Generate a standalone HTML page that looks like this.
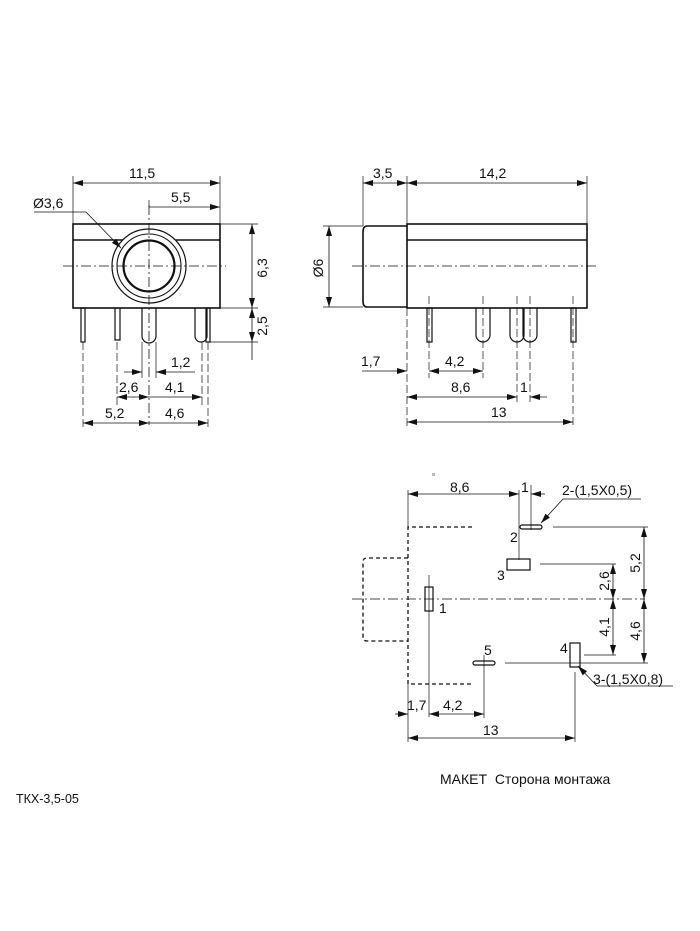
<!DOCTYPE html>
<html><head><meta charset="utf-8"><style>
html,body{margin:0;padding:0;background:#fff;}
svg{display:block;}
text{font-family:"Liberation Sans",Arial,sans-serif;fill:#111;}
</style></head><body>
<svg width="700" height="931" viewBox="0 0 700 931" xmlns="http://www.w3.org/2000/svg">
<defs>
<marker id="a" viewBox="0 0 10 6" refX="10" refY="3" markerWidth="10" markerHeight="6" markerUnits="userSpaceOnUse" orient="auto-start-reverse"><path d="M0,0 L10,3 L0,6 z" fill="#111"/></marker>
</defs>
<g fill="none" stroke="#111" stroke-width="1">
<!-- FRONT VIEW -->
<rect x="73" y="224" width="147" height="84" stroke-width="1.6"/>
<line x1="73" y1="240" x2="220" y2="240" stroke-width="1.4"/>
<circle cx="149" cy="266" r="37" fill="#fff" stroke-width="1.2"/>
<circle cx="149" cy="266" r="32" stroke-width="1.1"/>
<circle cx="149" cy="266" r="25.5" stroke-width="2.2"/>
<line x1="63" y1="266" x2="226" y2="266" stroke-width="0.8" stroke-dasharray="10,3,2,3"/>
<line x1="149" y1="205" x2="149" y2="425" stroke-width="0.8" stroke-dasharray="10,3,2,3"/>
<!-- pins front -->
<rect x="81" y="308" width="4" height="34" stroke-width="1.2"/>
<path d="M115,308 V340 H120 V308" stroke-width="1.2"/>
<path d="M142,308 V336 A7,7 0 0 0 156,336 V308" stroke-width="1.2"/>
<path d="M195,308 V336 A6,6 0 0 0 207,336 V308" stroke-width="1.2"/>
<rect x="206" y="308" width="4" height="34" stroke-width="1.2"/>
<!-- front dims -->
<line x1="73" y1="224" x2="73" y2="176" stroke-width="0.7"/>
<line x1="220" y1="224" x2="220" y2="176" stroke-width="0.7"/>
<line x1="73" y1="183" x2="220" y2="183" stroke-width="0.8" marker-start="url(#a)" marker-end="url(#a)"/>
<line x1="149" y1="200" x2="149" y2="207" stroke-width="0.7"/>
<line x1="149" y1="207" x2="220" y2="207" stroke-width="0.8" marker-end="url(#a)"/>
<path d="M34,212 H86 L121,248" stroke-width="0.8" marker-end="url(#a)"/>
<line x1="220" y1="224" x2="258" y2="224" stroke-width="0.7"/>
<line x1="220" y1="308" x2="258" y2="308" stroke-width="0.7"/>
<line x1="210" y1="342" x2="258" y2="342" stroke-width="0.7"/>
<line x1="252" y1="224" x2="252" y2="308" stroke-width="0.8" marker-start="url(#a)" marker-end="url(#a)"/>
<line x1="252" y1="308" x2="252" y2="342" stroke-width="0.8" marker-start="url(#a)" marker-end="url(#a)"/>
<line x1="252" y1="342" x2="252" y2="360" stroke-width="0.8"/>
<line x1="83" y1="342" x2="83" y2="430" stroke-width="0.7" stroke-dasharray="8,3"/>
<line x1="117" y1="342" x2="117" y2="405" stroke-width="0.7" stroke-dasharray="8,3"/>
<line x1="142" y1="342" x2="142" y2="378" stroke-width="0.7"/>
<line x1="156" y1="342" x2="156" y2="378" stroke-width="0.7"/>
<line x1="202" y1="342" x2="202" y2="405" stroke-width="0.7" stroke-dasharray="8,3"/>
<line x1="208" y1="342" x2="208" y2="430" stroke-width="0.7" stroke-dasharray="8,3"/>
<line x1="124" y1="372" x2="142" y2="372" stroke-width="0.8" marker-end="url(#a)"/>
<line x1="156" y1="372" x2="195" y2="372" stroke-width="0.8" marker-start="url(#a)"/>
<line x1="117" y1="397" x2="149" y2="397" stroke-width="0.8" marker-start="url(#a)" marker-end="url(#a)"/>
<line x1="149" y1="397" x2="202" y2="397" stroke-width="0.8" marker-end="url(#a)"/>
<line x1="83" y1="423" x2="149" y2="423" stroke-width="0.8" marker-start="url(#a)" marker-end="url(#a)"/>
<line x1="149" y1="423" x2="208" y2="423" stroke-width="0.8" marker-end="url(#a)"/>

<!-- SIDE VIEW -->
<path d="M407,226 H367 Q363,226 363,232 V301 Q363,307 367,307 H407" stroke-width="1.6"/>
<rect x="407" y="224" width="180" height="84" stroke-width="1.6"/>
<line x1="407" y1="240" x2="587" y2="240" stroke-width="1.4"/>
<line x1="352" y1="266" x2="596" y2="266" stroke-width="0.8" stroke-dasharray="10,3,2,3"/>
<rect x="427" y="308" width="5" height="34" stroke-width="1.2"/>
<path d="M476,308 V335 A7,7 0 0 0 490,335 V308" stroke-width="1.2"/>
<path d="M510,308 V335 A7,7 0 0 0 524,335 V308" stroke-width="1.2"/>
<path d="M523,308 V335 A7,7 0 0 0 537,335 V308" stroke-width="1.2"/>
<rect x="571" y="308" width="5" height="34" stroke-width="1.2"/>
<line x1="363" y1="226" x2="363" y2="176" stroke-width="0.7"/>
<line x1="407" y1="224" x2="407" y2="176" stroke-width="0.7"/>
<line x1="587" y1="224" x2="587" y2="176" stroke-width="0.7"/>
<line x1="363" y1="183" x2="407" y2="183" stroke-width="0.8" marker-start="url(#a)" marker-end="url(#a)"/>
<line x1="407" y1="183" x2="587" y2="183" stroke-width="0.8" marker-start="url(#a)" marker-end="url(#a)"/>
<line x1="363" y1="226" x2="323" y2="226" stroke-width="0.7"/>
<line x1="363" y1="307" x2="323" y2="307" stroke-width="0.7"/>
<line x1="329" y1="226" x2="329" y2="307" stroke-width="0.8" marker-start="url(#a)" marker-end="url(#a)"/>
<line x1="407" y1="308" x2="407" y2="428" stroke-width="0.7" stroke-dasharray="8,3"/>
<line x1="429" y1="296" x2="429" y2="378" stroke-width="0.7" stroke-dasharray="8,3"/>
<line x1="483" y1="296" x2="483" y2="378" stroke-width="0.7" stroke-dasharray="8,3"/>
<line x1="517" y1="296" x2="517" y2="402" stroke-width="0.7" stroke-dasharray="8,3"/>
<line x1="530" y1="296" x2="530" y2="402" stroke-width="0.7" stroke-dasharray="8,3"/>
<line x1="573" y1="296" x2="573" y2="428" stroke-width="0.7" stroke-dasharray="8,3"/>
<line x1="362" y1="371" x2="407" y2="371" stroke-width="0.8" marker-end="url(#a)"/>
<line x1="429" y1="371" x2="483" y2="371" stroke-width="0.8" marker-start="url(#a)" marker-end="url(#a)"/>
<line x1="407" y1="397" x2="517" y2="397" stroke-width="0.8" marker-start="url(#a)" marker-end="url(#a)"/>
<line x1="530" y1="397" x2="547" y2="397" stroke-width="0.8" marker-start="url(#a)"/>
<line x1="407" y1="422" x2="573" y2="422" stroke-width="0.8" marker-start="url(#a)" marker-end="url(#a)"/>

<!-- FOOTPRINT -->
<g stroke-dasharray="4,3" stroke-width="1.3">
<path d="M472,527 H408 V684 H472"/>
<path d="M408,558 H367 Q363,558 363,562 V637 Q363,641 367,641 H408"/>
</g>
<line x1="352" y1="599" x2="645" y2="599" stroke-width="0.8" stroke-dasharray="10,3,2,3"/>
<rect x="425" y="587" width="8" height="24" stroke-width="1.2"/>
<rect x="520" y="525" width="22" height="4" rx="2" stroke-width="1.2"/>
<rect x="507" y="559" width="23" height="11" stroke-width="1.2"/>
<rect x="473" y="661" width="22" height="4" rx="2" stroke-width="1.2"/>
<rect x="570" y="643" width="10" height="24" stroke-width="1.2"/>
<line x1="408" y1="490" x2="408" y2="527" stroke-width="0.7"/>
<line x1="519" y1="490" x2="519" y2="560" stroke-width="0.7"/>
<line x1="531" y1="485" x2="531" y2="530" stroke-width="0.7"/>
<line x1="408" y1="494" x2="519" y2="494" stroke-width="0.8" marker-start="url(#a)" marker-end="url(#a)"/>
<line x1="531" y1="494" x2="545" y2="494" stroke-width="0.8" marker-start="url(#a)"/>
<path d="M641,499 H563 L541,523" stroke-width="0.8" marker-end="url(#a)"/>
<line x1="553" y1="527" x2="648" y2="527" stroke-width="0.7"/>
<line x1="540" y1="564" x2="616" y2="564" stroke-width="0.7"/>
<line x1="584" y1="655" x2="616" y2="655" stroke-width="0.7"/>
<line x1="505" y1="663" x2="648" y2="663" stroke-width="0.7"/>
<line x1="644" y1="527" x2="644" y2="599" stroke-width="0.8" marker-start="url(#a)" marker-end="url(#a)"/>
<line x1="644" y1="599" x2="644" y2="663" stroke-width="0.8" marker-start="url(#a)" marker-end="url(#a)"/>
<line x1="613" y1="564" x2="613" y2="599" stroke-width="0.8" marker-start="url(#a)" marker-end="url(#a)"/>
<line x1="613" y1="599" x2="613" y2="655" stroke-width="0.8" marker-start="url(#a)" marker-end="url(#a)"/>
<path d="M578,666 L597,686 H673" stroke-width="0.8" marker-start="url(#a)"/>
<line x1="429" y1="575" x2="429" y2="717" stroke-width="0.7"/>
<line x1="484" y1="655" x2="484" y2="718" stroke-width="0.7"/>
<line x1="408" y1="684" x2="408" y2="742" stroke-width="0.7"/>
<line x1="575" y1="672" x2="575" y2="742" stroke-width="0.7"/>
<line x1="395" y1="714" x2="408" y2="714" stroke-width="0.8" marker-end="url(#a)"/>
<line x1="429" y1="714" x2="484" y2="714" stroke-width="0.8" marker-start="url(#a)" marker-end="url(#a)"/>
<line x1="408" y1="738" x2="575" y2="738" stroke-width="0.8" marker-start="url(#a)" marker-end="url(#a)"/>
</g>
<rect x="432" y="473" width="3" height="3" fill="#bbb"/>
<g font-size="14">
<text x="129" y="178">11,5</text>
<text x="171" y="202">5,5</text>
<text x="33" y="208">Ø3,6</text>
<text transform="translate(267,268) rotate(-90)" text-anchor="middle">6,3</text>
<text transform="translate(267,326) rotate(-90)" text-anchor="middle">2,5</text>
<text x="171" y="367">1,2</text>
<text x="119" y="392">2,6</text>
<text x="165" y="392">4,1</text>
<text x="105" y="418">5,2</text>
<text x="165" y="418">4,6</text>
<text x="373" y="178">3,5</text>
<text x="479" y="178">14,2</text>
<text transform="translate(323,268) rotate(-90)" text-anchor="middle">Ø6</text>
<text x="361" y="366">1,7</text>
<text x="445" y="366">4,2</text>
<text x="451" y="392">8,6</text>
<text x="520" y="392">1</text>
<text x="491" y="417">13</text>
<text x="450" y="492">8,6</text>
<text x="521" y="492">1</text>
<text x="562" y="495">2-(1,5X0,5)</text>
<text x="510" y="542">2</text>
<text x="497" y="580">3</text>
<text x="439" y="613">1</text>
<text x="484" y="655">5</text>
<text x="560" y="653">4</text>
<text x="593" y="684">3-(1,5X0,8)</text>
<text transform="translate(609,581) rotate(-90)" text-anchor="middle">2,6</text>
<text transform="translate(640,563) rotate(-90)" text-anchor="middle">5,2</text>
<text transform="translate(609,627) rotate(-90)" text-anchor="middle">4,1</text>
<text transform="translate(640,631) rotate(-90)" text-anchor="middle">4,6</text>
<text x="407" y="710">1,7</text>
<text x="443" y="710">4,2</text>
<text x="483" y="735">13</text>
<text x="440" y="784">МАКЕТ&#160;&#160;Сторона монтажа</text>
</g>
<text x="16" y="803" font-size="12.5">ТКХ-3,5-05</text>
</svg>
</body></html>
